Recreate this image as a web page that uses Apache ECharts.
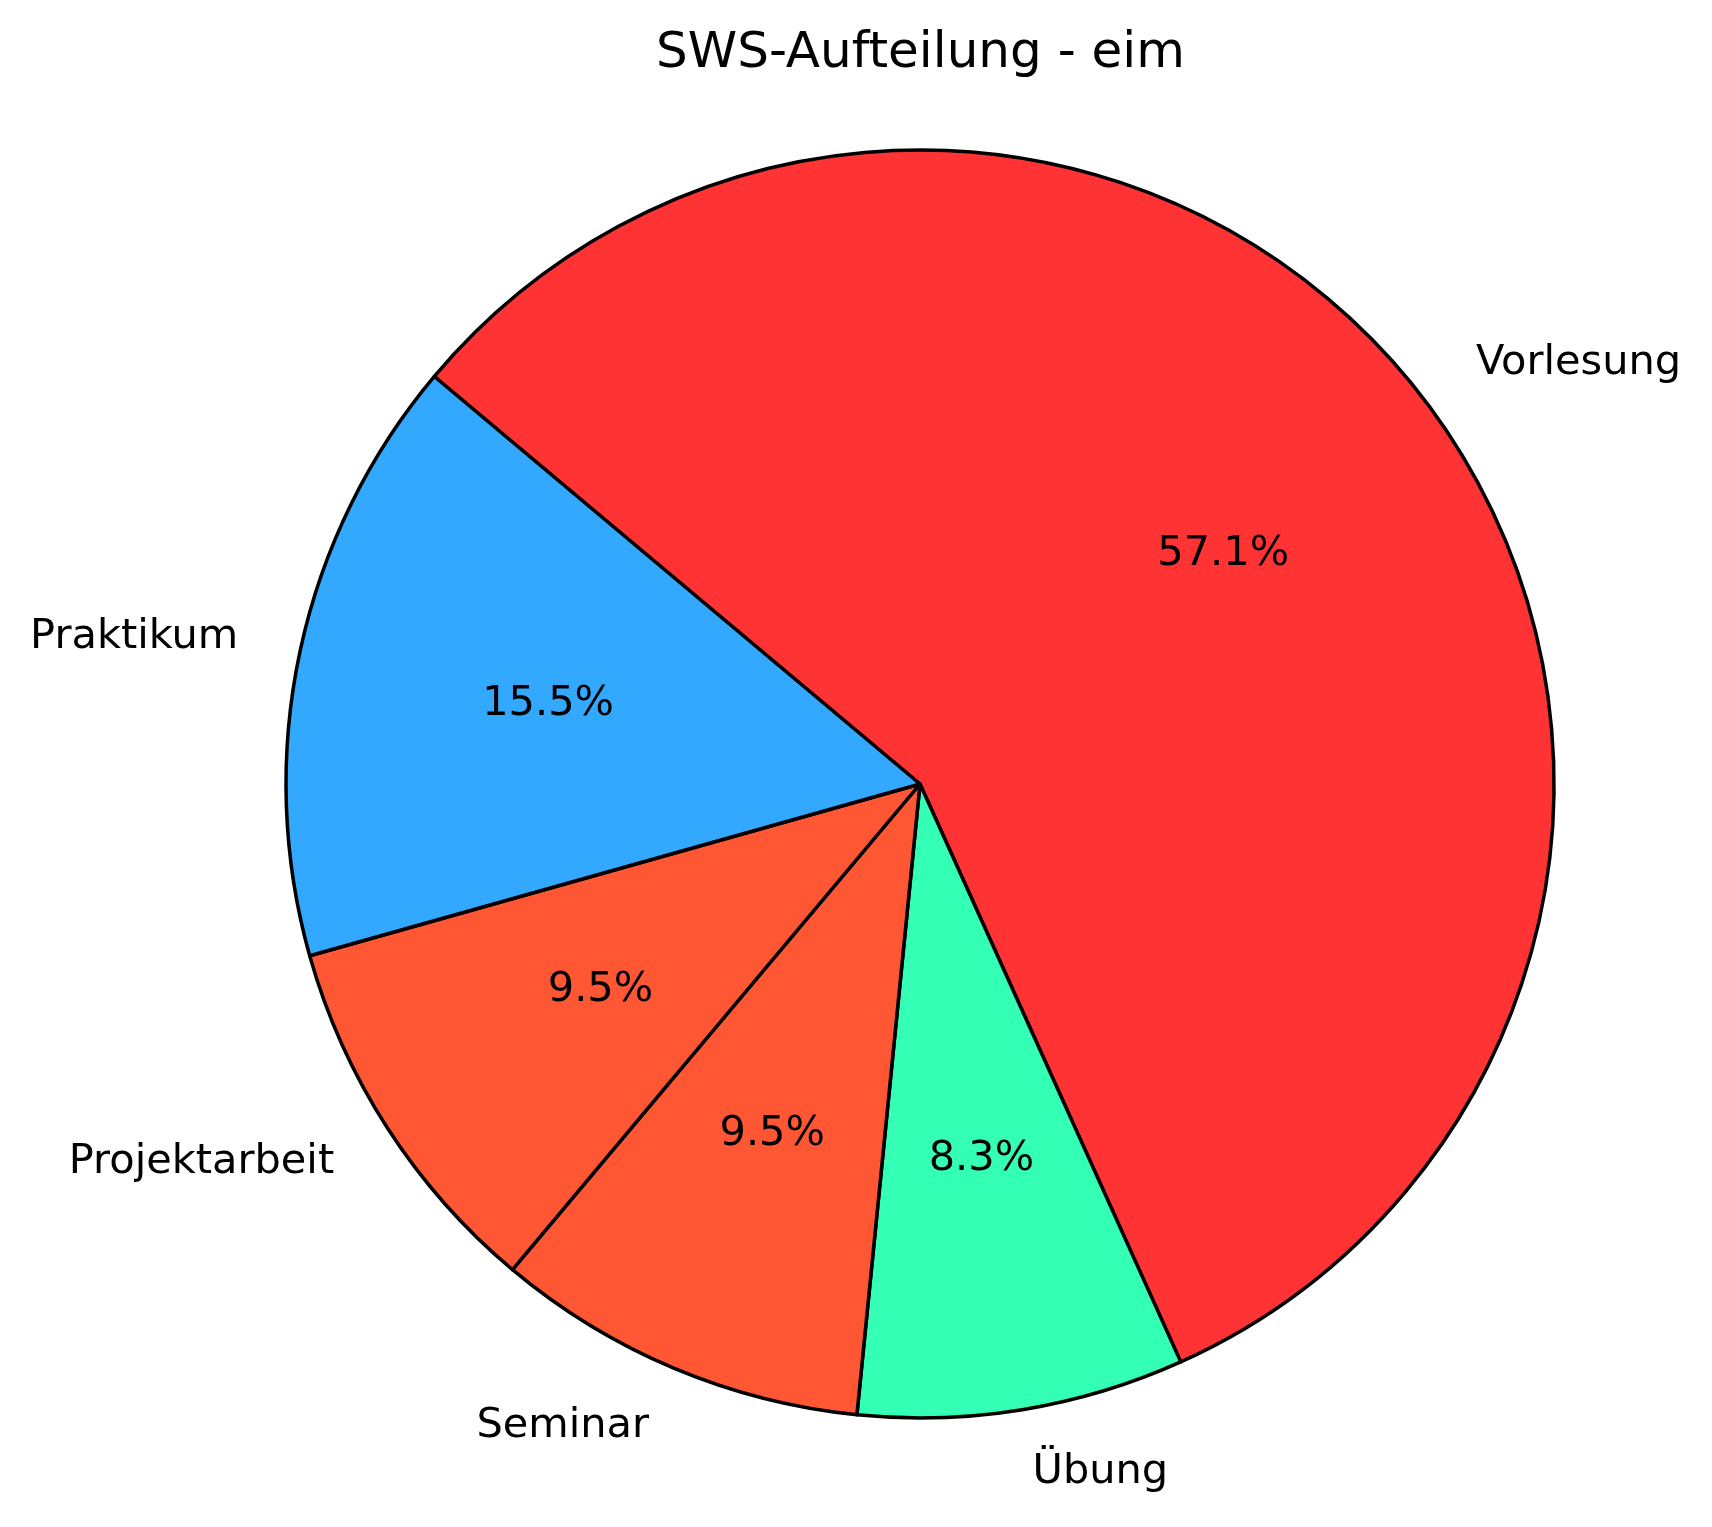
<!DOCTYPE html>
<html>
<head>
<meta charset="utf-8">
<script src="https://cdn.jsdelivr.net/npm/echarts@6/dist/echarts.min.js"></script>
<style>
html,body{margin:0;padding:0;background:#fff;}
#chart{width:1712px;height:1527px;}
</style>
</head>
<body>
<div id="chart"></div>
<script>
// Data (clockwise from start angle 140°)
const categories = ['Vorlesung', 'Übung', 'Seminar', 'Projektarbeit', 'Praktikum'];
const swsValues = [48, 7, 8, 8, 13];
const sliceColors = ['#FF3333', '#33FFB5', '#FF5733', '#FF5733', '#33A8FF'];
const titleText = 'SWS-Aufteilung - eim';

const total = swsValues.reduce((a, b) => a + b, 0);
const R = 634;
const CX = 920, CY = 784;
const FONT = '"DejaVu Sans", sans-serif';
const TITLE_SIZE = 50;

// measure title width to center it over the pie
const ctx = document.createElement('canvas').getContext('2d');
ctx.font = TITLE_SIZE + 'px ' + FONT;
const titleW = ctx.measureText(titleText).width;

const pieData = categories.map((c, i) => ({
  name: c, value: swsValues[i], itemStyle: { color: sliceColors[i] }
}));

const chart = echarts.init(document.getElementById('chart'), null, { renderer: 'canvas' });
chart.setOption({
  backgroundColor: '#ffffff',
  animation: false,
  title: {
    text: titleText,
    left: Math.round(CX - titleW / 2),
    top: 29,
    padding: 0,
    textStyle: { fontFamily: FONT, fontSize: TITLE_SIZE, fontWeight: 'normal', color: '#000' }
  },
  series: [
    {
      type: 'pie',
      center: [CX, CY],
      radius: [0, R],
      startAngle: 140,
      clockwise: true,
      avoidLabelOverlap: false,
      silent: true,
      itemStyle: { borderColor: '#000', borderWidth: 3.5 },
      label: {
        show: true,
        position: 'outside',
        formatter: '{b}',
        fontFamily: FONT,
        fontSize: 41.5,
        color: '#000',
        padding: [6, 0, 0, 0],
        distanceToLabelLine: 0
      },
      labelLine: { show: false, length: R * 0.1, length2: 0 },
      emphasis: { disabled: true },
      data: pieData
    },
    {
      type: 'pie',
      center: [CX, CY],
      radius: [R * 0.2 - 6, R],
      startAngle: 140,
      clockwise: true,
      avoidLabelOverlap: false,
      silent: true,
      itemStyle: { color: 'rgba(0,0,0,0)', borderWidth: 0 },
      label: {
        show: true,
        position: 'inside',
        formatter: p => (p.value / total * 100).toFixed(1) + '%',
        fontFamily: FONT,
        fontSize: 41.5,
        color: '#000',
        padding: [4, 0, 0, 0]
      },
      labelLine: { show: false },
      emphasis: { disabled: true },
      data: categories.map((c, i) => ({ name: c, value: swsValues[i] }))
    }
  ]
});
</script>
</body>
</html>
